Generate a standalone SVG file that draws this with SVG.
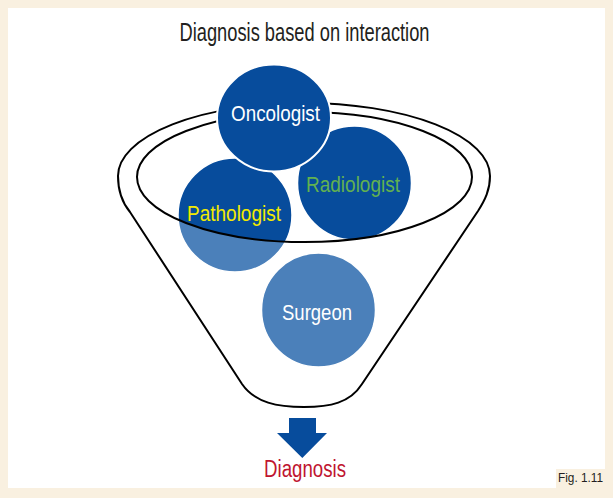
<svg xmlns="http://www.w3.org/2000/svg" width="613" height="498" viewBox="0 0 613 498">
  <style>
    .lbl { font-family: "Liberation Sans Narrow", "Liberation Sans", Arial, sans-serif; text-anchor: middle; }
    .dark { fill: #074C9C; }
    .light { fill: #4B80BA; }
    .ring { fill: none; stroke: #000; stroke-width: 2; }
    .edge { fill: none; stroke: #fff; stroke-width: 1.5; }
  </style>
  <defs>
    <clipPath id="rim">
      <ellipse cx="304.5" cy="177" rx="167.5" ry="65"/>
    </clipPath>
  </defs>

  <rect x="0" y="0" width="613" height="498" fill="#F9F0E0"/>
  <rect x="8" y="8" width="597" height="480" fill="#fff"/>
  <rect x="556" y="469" width="49" height="19" fill="#F9F0E0"/>
  <text class="lbl" x="580.5" y="481.5" font-size="13" fill="#231F20" textLength="45" lengthAdjust="spacingAndGlyphs">Fig. 1.11</text>

  <text class="lbl" x="304.5" y="41" font-size="25" fill="#231F20" textLength="250" lengthAdjust="spacingAndGlyphs">Diagnosis based on interaction</text>

  <g id="pathologist">
    <circle class="light" cx="235" cy="215" r="57"/>
    <circle class="dark" cx="235" cy="215" r="57" clip-path="url(#rim)"/>
    <circle class="edge" cx="235" cy="215" r="57"/>
    <text class="lbl" x="234" y="221" font-size="22.5" fill="#F2EA00" textLength="94" lengthAdjust="spacingAndGlyphs">Pathologist</text>
  </g>

  <g id="radiologist">
    <circle class="light" cx="354.5" cy="183" r="57"/>
    <circle class="dark" cx="354.5" cy="183" r="57" clip-path="url(#rim)"/>
    <circle class="edge" cx="354.5" cy="183" r="57"/>
    <text class="lbl" x="353" y="192" font-size="22.5" fill="#62B150" textLength="94" lengthAdjust="spacingAndGlyphs">Radiologist</text>
  </g>

  <g id="surgeon">
    <circle class="light" cx="318.5" cy="310" r="57"/>
    <circle class="edge" cx="318.5" cy="310" r="57"/>
    <text class="lbl" x="317" y="320" font-size="22.5" fill="#fff" textLength="70" lengthAdjust="spacingAndGlyphs">Surgeon</text>
  </g>

  <g id="funnel">
    <path class="ring" d="M 130,212 C 120,200 118,188 118,176 A 186 73 0 0 1 490,176 C 490,190 485,200 478,211 L 362,384 C 350,403 330,407 304,407 C 278,407 255,403 242,384 Z"/>
    <ellipse class="ring" cx="304.5" cy="177" rx="167.5" ry="65"/>
  </g>

  <g id="oncologist">
    <ellipse class="dark" cx="274" cy="118" rx="57" ry="53.5" stroke="#fff" stroke-width="2"/>
    <text class="lbl" x="275.5" y="120.5" font-size="22.5" fill="#fff" textLength="89" lengthAdjust="spacingAndGlyphs">Oncologist</text>
  </g>

  <g id="connectors">
    <polygon fill="#074C9C" points="289,418 316,418 316,433 327,433 302.3,458 277,433 289,433"/>
  </g>

  <g id="diagnosis">
    <text class="lbl" x="305" y="477" font-size="23" fill="#C0152F" textLength="82" lengthAdjust="spacingAndGlyphs">Diagnosis</text>
  </g>
</svg>
